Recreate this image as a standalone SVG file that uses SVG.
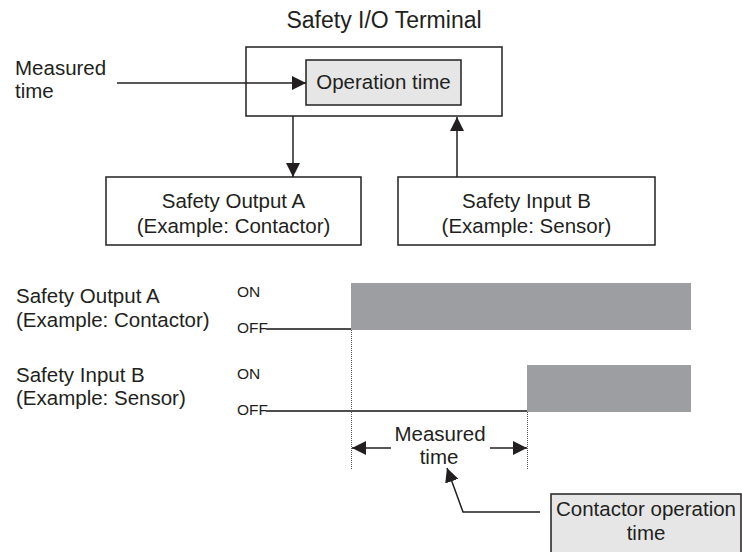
<svg xmlns="http://www.w3.org/2000/svg" width="742" height="552" viewBox="0 0 742 552">
<style>
text{font-family:"Liberation Sans",Arial,sans-serif;fill:#231f20;}
.t{font-size:20.5px;}
.c{text-anchor:middle;}
.s{font-size:15.5px;}
.box{fill:#fff;stroke:#231f20;stroke-width:1.5;}
.gbox{fill:#e6e6e7;stroke:#231f20;stroke-width:1.5;}
.ln{stroke:#231f20;stroke-width:1.5;fill:none;}
.sig{stroke:#4d4d4f;stroke-width:2;fill:none;}
.dot{stroke:#555;stroke-width:1;stroke-dasharray:1,1;fill:none;}
.bar{fill:#9d9ea2;}
</style>
<defs>
<marker id="ahL" viewBox="0 0 14 14" refX="14" refY="7" markerWidth="14" markerHeight="14" markerUnits="userSpaceOnUse" orient="auto">
<path d="M0,0 L14,7 L0,14 z" fill="#231f20"/>
</marker>
</defs>

<text x="384" y="28" class="c" font-size="23">Safety I/O Terminal</text>

<g id="terminal">
<rect x="246" y="47" width="256" height="69" class="box"/>
</g>
<g id="operation-time">
<rect x="306" y="60" width="155" height="45" class="gbox"/>
<text x="383.5" y="89" class="t c">Operation time</text>
</g>
<g id="measured-time-label">
<text x="15" y="75" class="t">Measured</text>
<text x="15" y="98" class="t">time</text>
</g>
<g id="safety-output-a">
<rect x="106" y="177" width="255" height="68" class="box"/>
<text x="233.5" y="208" class="t c">Safety Output A</text>
<text x="233.5" y="233" class="t c">(Example: Contactor)</text>
</g>
<g id="safety-input-b">
<rect x="398" y="177" width="257" height="68" class="box"/>
<text x="526.5" y="208" class="t c">Safety Input B</text>
<text x="526.5" y="233" class="t c">(Example: Sensor)</text>
</g>

<g id="connectors">
<line x1="117" y1="83" x2="306" y2="83" class="ln" marker-end="url(#ahL)"/>
<line x1="293" y1="116" x2="293" y2="177" class="ln" marker-end="url(#ahL)"/>
<line x1="457" y1="177" x2="457" y2="117" class="ln" marker-end="url(#ahL)"/>
<line x1="391" y1="448" x2="352" y2="448" class="ln" marker-end="url(#ahL)"/>
<line x1="490" y1="448" x2="527" y2="448" class="ln" marker-end="url(#ahL)"/>
<polyline points="540,512 463,512 447,468" class="ln" marker-end="url(#ahL)"/>
</g>

<g id="timing-output-a">
<text x="16" y="303" class="t">Safety Output A</text>
<text x="16" y="327" class="t">(Example: Contactor)</text>
<text x="237" y="297" class="s">ON</text>
<text x="237" y="333" class="s">OFF</text>
<line x1="266" y1="329" x2="351" y2="329" class="sig"/>
<rect x="351" y="283" width="340" height="47" class="bar"/>
</g>
<g id="timing-input-b">
<text x="16" y="382" class="t">Safety Input B</text>
<text x="16" y="405" class="t">(Example: Sensor)</text>
<text x="237" y="379" class="s">ON</text>
<text x="237" y="415" class="s">OFF</text>
<line x1="266" y1="411" x2="527" y2="411" class="sig"/>
<rect x="527" y="365" width="164" height="47" class="bar"/>
</g>
<g id="guides">
<line x1="351.5" y1="330" x2="351.5" y2="470" class="dot"/>
<line x1="527.5" y1="412" x2="527.5" y2="470" class="dot"/>
</g>
<g id="measured-time">
<text x="440" y="441" class="t c">Measured</text>
<text x="439" y="464" class="t c">time</text>
</g>
<g id="contactor-operation-time">
<rect x="551" y="494" width="190" height="60" class="gbox"/>
<text x="646" y="516" class="t c">Contactor operation</text>
<text x="646" y="540" class="t c">time</text>
</g>
</svg>
